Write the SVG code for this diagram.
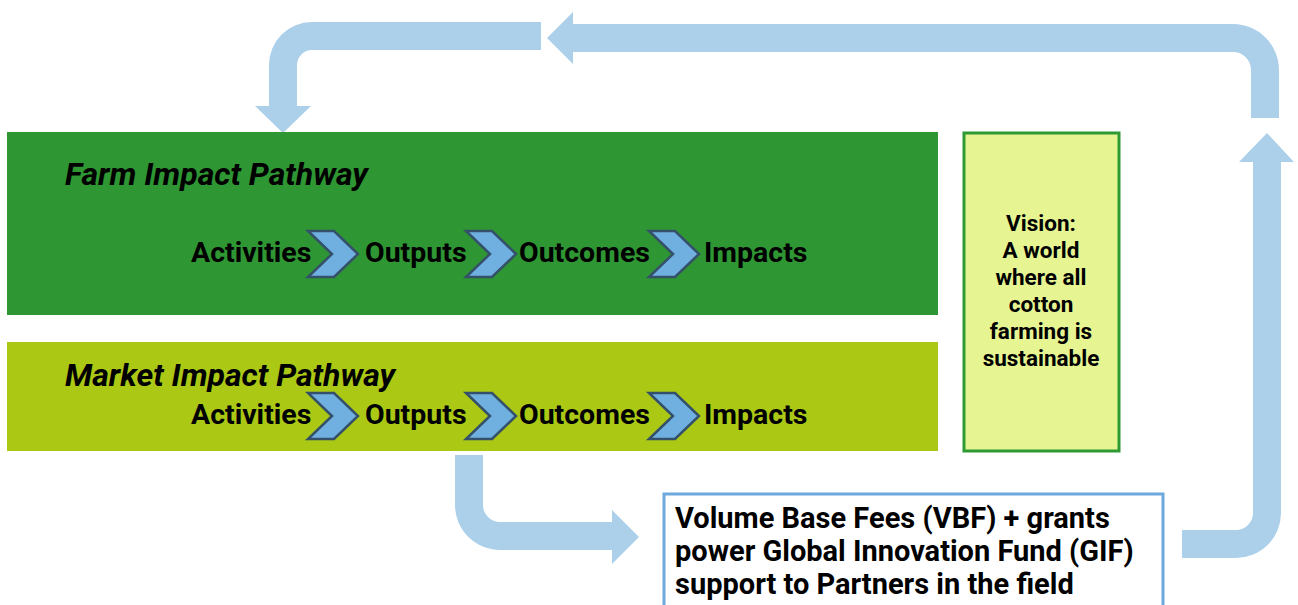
<svg xmlns="http://www.w3.org/2000/svg" width="1298" height="605" viewBox="0 0 1298 605">
<style>
.arrow{fill:#acd0ea;stroke:none}
.chev{fill:#6fb0e0;stroke:#34506a;stroke-width:2.5;stroke-linejoin:miter}
.step{font-family:Roboto,"Liberation Sans",sans-serif;font-weight:bold;font-size:28.5px;fill:#000}
.title{font-family:Roboto,"Liberation Sans",sans-serif;font-weight:bold;font-style:italic;font-size:32px;fill:#000}
.vision{font-family:Roboto,"Liberation Sans",sans-serif;font-weight:bold;font-size:22.5px;fill:#000;text-anchor:middle}
.fund{font-family:Roboto,"Liberation Sans",sans-serif;font-weight:bold;font-size:29px;fill:#000}
</style>
<defs>
<polygon id="chevron" points="0,0 26,0 50,23 26,46 0,46 24,23"/>
</defs>
<rect width="1298" height="605" fill="#ffffff"/>
<g id="connectors">
<path class="arrow" d="M541,22 L312,22 A43,43 0 0 0 269,65 L269,106 L255,106 L283,133 L311,106 L297,106 L297,65 A15,15 0 0 1 312,50 L541,50 Z"/>
<path class="arrow" d="M547,38 L573,12 L573,24 L1233,24 A46,46 0 0 1 1279,70 L1279,118 L1251,118 L1251,70 A18,18 0 0 0 1233,52 L573,52 L573,64 Z"/>
<path class="arrow" d="M1267,133 L1294,162 L1281,162 L1281,513 A45,45 0 0 1 1236,558 L1182,558 L1182,530 L1236,530 A17,17 0 0 0 1253,513 L1253,162 L1239,162 Z"/>
<path class="arrow" d="M455,455 L483,455 L483,505 A17,17 0 0 0 500,522 L612,522 L612,510 L639,537 L612,564 L612,550 L500,550 A45,45 0 0 1 455,505 Z"/>
</g>
<g id="farm">
<rect x="7" y="132" width="931" height="183" fill="#2e9633"/>
<text class="title" x="65" y="185">Farm Impact Pathway</text>
<text class="step" x="191" y="262">Activities</text>
<use href="#chevron" class="chev" x="308" y="231"/>
<text class="step" x="365" y="262">Outputs</text>
<use href="#chevron" class="chev" x="466" y="231"/>
<text class="step" x="519" y="262">Outcomes</text>
<use href="#chevron" class="chev" x="649" y="231"/>
<text class="step" x="704" y="262">Impacts</text>
</g>
<g id="market">
<rect x="7" y="342" width="931" height="109" fill="#aac814"/>
<text class="title" x="65" y="386">Market Impact Pathway</text>
<text class="step" x="191" y="424">Activities</text>
<use href="#chevron" class="chev" x="308" y="393"/>
<text class="step" x="365" y="424">Outputs</text>
<use href="#chevron" class="chev" x="466" y="393"/>
<text class="step" x="519" y="424">Outcomes</text>
<use href="#chevron" class="chev" x="649" y="393"/>
<text class="step" x="704" y="424">Impacts</text>
</g>
<g id="vision">
<rect x="964" y="133" width="155" height="318" fill="#e6f592" stroke="#2e9a34" stroke-width="3"/>
<text class="vision" x="1041" y="231">Vision:</text>
<text class="vision" x="1041" y="258">A world</text>
<text class="vision" x="1041" y="285">where all</text>
<text class="vision" x="1041" y="312">cotton</text>
<text class="vision" x="1041" y="339">farming is</text>
<text class="vision" x="1041" y="366">sustainable</text>
</g>
<g id="funding">
<rect x="664" y="494" width="499" height="130" fill="#ffffff" stroke="#6fa8dc" stroke-width="3"/>
<text class="fund" x="675" y="528">Volume Base Fees (VBF) + grants</text>
<text class="fund" x="675" y="561">power Global Innovation Fund (GIF)</text>
<text class="fund" x="675" y="594">support to Partners in the field</text>
</g>
</svg>
